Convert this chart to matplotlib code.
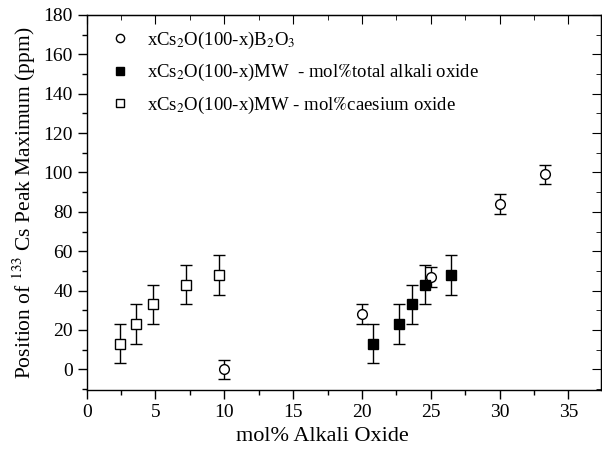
import matplotlib
matplotlib.use('Agg')
import matplotlib.pyplot as plt
from matplotlib.ticker import MultipleLocator

plt.rcParams['font.family'] = ['Liberation Serif', 'DejaVu Serif']
plt.rcParams['mathtext.fontset'] = 'stix'

# xCs2O(100-x)B2O3
b2o3_x = [10.0, 20.0, 25.0, 30.0, 33.3]
b2o3_y = [0, 28, 47, 84, 99]
b2o3_err = [5, 5, 5, 5, 5]

# xCs2O(100-x)MW - mol% total alkali oxide
tot_x = [20.8, 22.7, 23.65, 24.6, 26.5]
tot_y = [13, 23, 33, 43, 48]
tot_err = [10, 10, 10, 10, 10]

# xCs2O(100-x)MW - mol% caesium oxide
cs_x = [2.4, 3.6, 4.8, 7.2, 9.6]
cs_y = [13, 23, 33, 43, 48]
cs_err = [10, 10, 10, 10, 10]

labels = [r'xCs$_2$O(100-x)B$_2$O$_3$',
          r'xCs$_2$O(100-x)MW  - mol$\mathsf{\%}$total alkali oxide',
          r'xCs$_2$O(100-x)MW - mol$\mathsf{\%}$caesium oxide']

fig = plt.figure(figsize=(6.02, 4.5), dpi=100)
ax = fig.add_axes([0.144, 0.1333, 0.855, 0.8334])

eb = dict(ecolor='black', elinewidth=1, capsize=4, capthick=1, linestyle='none')
ax.errorbar(b2o3_x, b2o3_y, yerr=b2o3_err, marker='o', ms=7, mfc='white',
            mec='black', mew=1, label=labels[0], **eb)
ax.errorbar(tot_x, tot_y, yerr=tot_err, marker='s', ms=7, mfc='black',
            mec='black', mew=1, label=labels[1], **eb)
ax.errorbar(cs_x, cs_y, yerr=cs_err, marker='s', ms=7, mfc='white',
            mec='black', mew=1, label=labels[2], **eb)

ax.set_xlim(0, 37.4)
ax.set_ylim(-10.5, 180)
ax.xaxis.set_major_locator(MultipleLocator(5))
ax.xaxis.set_minor_locator(MultipleLocator(2.5))
ax.yaxis.set_major_locator(MultipleLocator(20))
ax.yaxis.set_minor_locator(MultipleLocator(10))
ax.tick_params(which='both', direction='out', labelsize=14, width=1)
ax.tick_params(which='major', length=6.5)
ax.tick_params(which='minor', length=3.6)
for s in ax.spines.values():
    s.set_linewidth(1)

# inward ticks on the top and right
sec_x = ax.secondary_xaxis('top')
sec_x.xaxis.set_major_locator(MultipleLocator(5))
sec_x.xaxis.set_minor_locator(MultipleLocator(2.5))
sec_x.tick_params(which='both', direction='in', labeltop=False)
sec_x.tick_params(which='major', length=6.5)
sec_x.tick_params(which='minor', length=3.6)
sec_y = ax.secondary_yaxis('right')
sec_y.yaxis.set_major_locator(MultipleLocator(20))
sec_y.yaxis.set_minor_locator(MultipleLocator(10))
sec_y.tick_params(which='both', direction='in', labelright=False)
sec_y.tick_params(which='major', length=6.5)
sec_y.tick_params(which='minor', length=3.6)

ax.set_xlabel('mol% Alkali Oxide', fontsize=16)
ax.xaxis.set_label_coords(0.458, -0.125)
ax.xaxis.label.set_va('center')
ax.set_ylabel(r'Position of $^{133}$ Cs Peak Maximum (ppm)', fontsize=15.5, labelpad=4)

handles, lbls = ax.get_legend_handles_labels()
handles = [h[0] for h in handles]
ax.legend(handles, lbls, loc='upper left', bbox_to_anchor=(0.014, 1.005),
          frameon=False, fontsize=13.5, handlelength=1.0, handletextpad=0.94,
          labelspacing=0.6, markerscale=0.85)

fig.savefig('out.png', dpi=100)
